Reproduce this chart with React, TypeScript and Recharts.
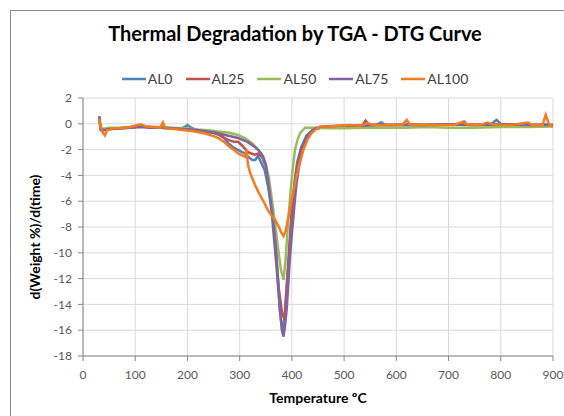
import React from 'react';
import { LineChart, Line, XAxis, YAxis, CartesianGrid, Legend } from 'recharts';

const chartTitle = 'Thermal Degradation by TGA - DTG Curve';
const xAxisTitle = 'Temperature ºC';
const yAxisTitle = 'd(Weight %)/d(time)';
const seriesNames = ['AL0', 'AL25', 'AL50', 'AL75', 'AL100'];
const seriesColors = ['#4F81BD', '#C0504D', '#9BBB59', '#8064A2', '#F47B20'];
const xTicks = [0, 100, 200, 300, 400, 500, 600, 700, 800, 900];
const yTicks = [-18, -16, -14, -12, -10, -8, -6, -4, -2, 0, 2];

const al0Temp = [31, 34, 38, 45, 55, 70, 85, 100, 115, 130, 150, 170, 185, 195, 200, 205, 215, 230, 245, 260, 268, 278, 287, 300, 310, 318, 324, 330, 335, 340, 348, 355, 361, 366, 371, 377, 382, 386, 390, 395, 400, 405, 410, 418, 428, 440, 455, 480, 510, 540, 560, 571, 580, 610, 650, 700, 750, 780, 792, 800, 830, 860, 890, 900];
const al0Value = [0.55, -0.4, -0.55, -0.35, -0.4, -0.35, -0.3, -0.25, -0.2, -0.25, -0.3, -0.35, -0.4, -0.25, -0.1, -0.25, -0.45, -0.55, -0.65, -0.85, -1.0, -1.5, -1.8, -2.1, -2.3, -2.6, -2.8, -2.8, -2.5, -2.9, -3.6, -5.0, -6.7, -9.0, -11.3, -14.4, -16.2, -15.0, -12.5, -9.5, -6.5, -4.5, -3.0, -1.8, -0.9, -0.45, -0.3, -0.25, -0.2, -0.15, -0.1, 0.1, -0.1, -0.1, -0.1, -0.05, -0.1, -0.05, 0.3, 0.0, -0.1, -0.1, -0.05, -0.15];

const al25Temp = [31, 34, 40, 50, 70, 90, 110, 130, 150, 170, 190, 210, 230, 250, 259, 270, 278, 290, 297, 305, 316, 322, 329, 336, 343, 350, 357, 363, 369, 375, 381, 386, 390, 395, 400, 405, 411, 419, 430, 442, 455, 480, 510, 535, 541, 548, 580, 620, 660, 700, 750, 800, 850, 900];
const al25Value = [0.4, -0.5, -0.45, -0.4, -0.35, -0.3, -0.2, -0.3, -0.3, -0.35, -0.45, -0.5, -0.6, -0.7, -0.8, -1.1, -1.25, -1.4, -1.4, -1.7, -2.2, -2.3, -2.4, -2.3, -2.6, -3.3, -4.8, -7.0, -9.8, -12.8, -14.6, -15.2, -13.0, -10.0, -7.0, -4.8, -3.2, -2.0, -1.0, -0.45, -0.3, -0.25, -0.2, -0.1, 0.25, -0.1, -0.1, -0.05, -0.1, -0.05, -0.1, -0.05, -0.1, -0.1];

const al50Temp = [31, 34, 40, 50, 70, 90, 110, 130, 150, 170, 195, 220, 240, 259, 280, 297, 310, 324, 335, 343, 350, 356, 361, 368, 374, 379, 384, 388, 393, 397, 400, 403, 406, 411, 416, 425, 440, 470, 500, 540, 580, 620, 660, 700, 750, 800, 850, 900];
const al50Value = [0.3, -0.3, -0.4, -0.3, -0.3, -0.25, -0.2, -0.25, -0.25, -0.3, -0.35, -0.45, -0.5, -0.6, -0.7, -0.87, -1.1, -1.5, -2.0, -2.4, -3.1, -4.2, -5.65, -7.8, -9.8, -11.3, -12.1, -10.5, -7.45, -5.5, -4.1, -3.0, -2.0, -1.2, -0.7, -0.3, -0.3, -0.35, -0.35, -0.3, -0.3, -0.3, -0.25, -0.3, -0.3, -0.25, -0.25, -0.2];

const al75Temp = [31, 34, 40, 50, 70, 90, 110, 130, 150, 170, 190, 210, 230, 250, 270, 297, 315, 329, 335, 345, 350, 355, 360, 364, 368, 371, 374, 377, 381, 384, 387, 390, 393, 396, 400, 403, 406, 409, 414, 419, 425, 431, 444, 460, 490, 520, 560, 600, 650, 700, 750, 800, 850, 900];
const al75Value = [0.6, -0.4, -0.5, -0.4, -0.35, -0.3, -0.25, -0.3, -0.3, -0.35, -0.4, -0.45, -0.55, -0.65, -0.85, -1.1, -1.4, -1.8, -2.0, -2.55, -3.2, -4.6, -6.2, -7.45, -9.0, -10.5, -12.5, -14.4, -16.0, -16.5, -15.6, -14.4, -12.5, -10.5, -8.5, -7.2, -5.8, -4.6, -3.2, -2.3, -1.6, -1.0, -0.35, -0.2, -0.15, -0.15, -0.1, -0.1, -0.1, -0.05, -0.1, -0.05, -0.1, -0.1];

const al100Temp = [31, 34, 38, 42, 46, 52, 60, 75, 90, 105, 112, 120, 135, 148, 153, 158, 175, 195, 215, 234, 250, 259, 270, 278, 288, 297, 305, 310, 313, 316, 320, 324, 330, 336, 342, 348, 354, 361, 368, 374, 380, 384, 388, 392, 396, 401, 406, 414, 422, 430, 438, 454, 470, 490, 510, 530, 545, 555, 575, 600, 612, 620, 626, 650, 680, 710, 730, 735, 760, 774, 785, 820, 852, 860, 880, 886, 892, 900];
const al100Value = [0.4, -0.3, -0.7, -0.9, -0.5, -0.45, -0.35, -0.35, -0.25, -0.1, -0.05, -0.2, -0.25, -0.3, 0.1, -0.35, -0.4, -0.5, -0.6, -0.75, -0.95, -1.1, -1.4, -1.7, -2.0, -2.3, -2.45, -2.55, -2.0, -3.2, -3.8, -4.2, -4.8, -5.3, -5.75, -6.2, -6.7, -7.1, -7.45, -7.9, -8.45, -8.7, -8.3, -7.5, -6.7, -5.6, -4.6, -3.2, -2.0, -1.2, -0.7, -0.2, -0.2, -0.15, -0.1, -0.15, 0.05, -0.1, -0.1, -0.1, -0.05, 0.3, -0.05, -0.1, -0.1, -0.1, 0.2, -0.05, -0.1, 0.1, -0.05, -0.1, 0.1, -0.1, -0.1, 0.7, 0.0, -0.25];

const toPoints = (temps: number[], values: number[]) =>
  temps.map((t, i) => ({ t, v: values[i] }));

const seriesData = [
  toPoints(al0Temp, al0Value),
  toPoints(al25Temp, al25Value),
  toPoints(al50Temp, al50Value),
  toPoints(al75Temp, al75Value),
  toPoints(al100Temp, al100Value),
];

const FONT = 'Lato, "Open Sans", sans-serif';

const renderLegend = (props: any) => {
  const payload = [...(props.payload || [])].sort(
    (a: any, b: any) => seriesNames.indexOf(a.value) - seriesNames.indexOf(b.value)
  );
  return (
    <div style={{ display: 'flex', justifyContent: 'center', fontFamily: FONT, fontSize: 14, color: '#404040' }}>
      {payload.map((p: any, i: number) => (
        <div key={i} style={{ display: 'flex', alignItems: 'center', marginRight: i < payload.length - 1 ? 13 : 0 }}>
          <svg width={25} height={12} style={{ marginRight: 1 }}>
            <line x1={0} y1={6} x2={24} y2={6} stroke={p.color} strokeWidth={2.5} />
          </svg>
          <span>{p.value}</span>
        </div>
      ))}
    </div>
  );
};

const YTitle = (props: any) => {
  const cx = 34;
  const cy = 237;
  return (
    <text x={cx} y={cy} transform={`rotate(-90 ${cx} ${cy})`} textAnchor="middle" dominantBaseline="central"
      style={{ fontFamily: FONT, fontSize: 14, fontWeight: 700, fill: '#000' }}>
      {yAxisTitle}
    </text>
  );
};

const XTitle = (props: any) => {
  return (
    <text x={318} y={403} textAnchor="middle"
      style={{ fontFamily: FONT, fontSize: 14, fontWeight: 700, fill: '#000' }}>
      {xAxisTitle}
    </text>
  );
};

export default function App() {
  return (
    <div style={{ position: 'absolute', left: 0, top: 0, width: 564, height: 416, overflow: 'hidden', background: '#fff' }}>
      <div style={{ position: 'absolute', left: 10, top: 10, width: 620, height: 460, border: '1px solid #8a8a8a' }} />
      <svg style={{ position: 'absolute', left: 0, top: 0 }} width={564} height={60}>
        <text x={295} y={41} textAnchor="middle" style={{ fontFamily: FONT, fontSize: 20, fontWeight: 700, fill: '#000' }}>
          {chartTitle}
        </text>
      </svg>
      <div style={{ position: 'absolute', left: 0, top: 0 }}>
        <LineChart width={564} height={416} margin={{ top: 98, right: 11, left: 0, bottom: 0 }} style={{ fontFamily: FONT }}>
          <CartesianGrid stroke="#D9D9D9" strokeWidth={1} />
          <XAxis
            type="number"
            dataKey="t"
            domain={[0, 900]}
            ticks={xTicks}
            allowDataOverflow
            height={60}
            axisLine={{ stroke: '#868686' }}
            tickLine={{ stroke: '#868686' }}
            tickSize={5}
            tickMargin={9}
            tick={{ fill: '#595959', fontSize: 12, fontFamily: FONT }}
            label={<XTitle />}
          />
          <YAxis
            type="number"
            domain={[-18, 2]}
            ticks={yTicks}
            allowDataOverflow
            width={83}
            axisLine={{ stroke: '#868686' }}
            tickLine={{ stroke: '#868686' }}
            tickSize={5}
            tickMargin={6}
            tick={{ fill: '#595959', fontSize: 12, fontFamily: FONT }}
            label={<YTitle />}
          />
          <Legend
            layout="horizontal"
            verticalAlign="middle"
            align="center"
            content={renderLegend}
            wrapperStyle={{ position: 'absolute', top: 70, left: 0, width: 590, height: 18 }}
          />
          {seriesData.map((d, i) => (
            <Line
              key={seriesNames[i]}
              data={d}
              dataKey="v"
              name={seriesNames[i]}
              type="linear"
              stroke={seriesColors[i]}
              strokeWidth={2.5}
              dot={false}
              activeDot={false}
              isAnimationActive={false}
              legendType="line"
            />
          ))}
        </LineChart>
      </div>
    </div>
  );
}
